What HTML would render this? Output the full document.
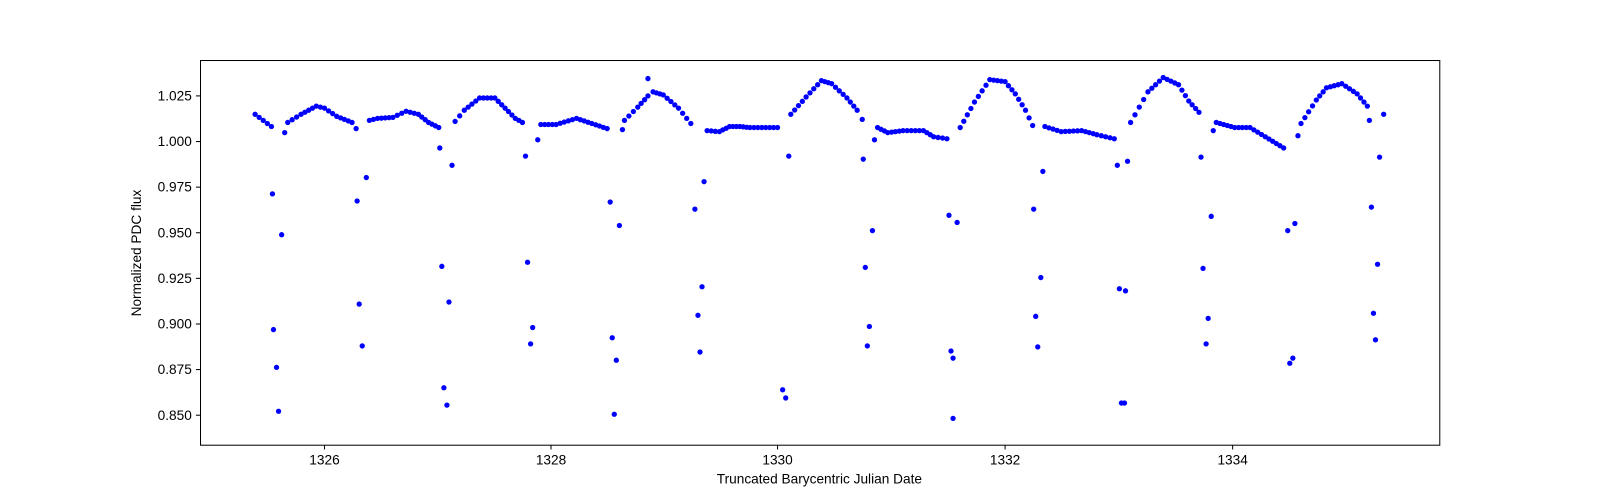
<!DOCTYPE html>
<html><head><meta charset="utf-8"><style>
html,body{margin:0;padding:0;background:#fff;overflow:hidden;width:1600px;height:500px;}
svg{display:block;}
svg text{font-family:"Liberation Sans","DejaVu Sans",sans-serif;font-size:13.4px;fill:#000;}
</style></head><body>
<svg id="s" width="1600" height="500" xmlns="http://www.w3.org/2000/svg">
<rect x="0" y="0" width="1600" height="500" fill="#fff"/>
<g transform="scale(1.0204)">
<g id="pts" fill="#0000ff"></g>
<rect x="196.5" y="59.3" width="1214.5" height="377" fill="none" stroke="#000" stroke-width="1"/>
<g stroke="#000">
<line x1="318" y1="436.5" x2="318" y2="440.5"/><line x1="540" y1="436.5" x2="540" y2="440.5"/>
<line x1="762" y1="436.5" x2="762" y2="440.5"/><line x1="985" y1="436.5" x2="985" y2="440.5"/>
<line x1="1208" y1="436.5" x2="1208" y2="440.5"/>
<line x1="192" y1="94" x2="196" y2="94"/><line x1="192" y1="138.7" x2="196" y2="138.7"/>
<line x1="192" y1="183.4" x2="196" y2="183.4"/><line x1="192" y1="228.1" x2="196" y2="228.1"/>
<line x1="192" y1="272.8" x2="196" y2="272.8"/><line x1="192" y1="317.5" x2="196" y2="317.5"/>
<line x1="192" y1="362.2" x2="196" y2="362.2"/><line x1="192" y1="406.9" x2="196" y2="406.9"/>
</g>
<g text-anchor="middle">
<text x="318" y="455">1326</text><text x="540" y="455">1328</text><text x="762" y="455">1330</text>
<text x="985" y="455">1332</text><text x="1208" y="455">1334</text>
<text x="803" y="474">Truncated Barycentric Julian Date</text>
<text transform="translate(138,248) rotate(-90)">Normalized PDC flux</text>
</g>
<g text-anchor="end">
<text x="188" y="98.5">1.025</text><text x="188" y="143.2">1.000</text><text x="188" y="187.9">0.975</text>
<text x="188" y="232.6">0.950</text><text x="188" y="277.3">0.925</text><text x="188" y="322">0.900</text>
<text x="188" y="366.7">0.875</text><text x="188" y="411.4">0.850</text>
</g>
</g>
</svg>
<script>
var segs=[
[[250,112],[258,118],[266,124]],
[[282,120],[295,112],[310,104],[318,106],[330,114],[345,120]],
[[362,118],[370,116],[385,115],[398,109],[410,112],[420,120],[430,125]],
[[446,119],[455,108],[470,96],[485,96],[495,106],[505,116],[512,120]],
[[530,122],[545,122],[565,116],[580,121],[595,126]],
[[612,118],[625,105],[635,94],[640,90],[650,93],[665,106],[677,121]],
[[693,128],[705,129],[715,124],[725,124],[735,125],[762,125]],
[[775,112],[790,95],[805,79],[815,82],[830,96],[840,108],[845,117]],
[[860,125],[870,130],[885,128],[905,128],[915,134],[928,136]],
[[941,125],[955,100],[970,78],[985,80],[995,92],[1005,108],[1012,123]],
[[1024,124],[1040,129],[1060,128],[1075,132],[1092,136]],
[[1108,120],[1125,90],[1140,76],[1155,83],[1165,99],[1175,110]],
[[1192,120],[1210,125],[1225,125],[1240,134],[1258,145]],
[[1275,121],[1290,98],[1300,86],[1315,82],[1330,92],[1340,104]]];
var singles=[[267,190],[268,323],[271,360],[273,403],[276,230],[279,130],[349,126],
[350,197],[352,298],[355,339],[359,174],[431,145],[433,261],[435,380],[438,397],[440,296],[443,162],
[515,153],[517,257],[520,337],[522,321],[527,137],[598,198],[600,331],[604,353],[602,406],[607,221],[610,127],
[635,77],[681,205],[684,309],[686,345],[688,281],[690,178],[767,382],[770,390],[773,153],
[846,156],[848,262],[850,339],[852,320],[855,226],[857,137],[930,211],[932,344],[934,351],[934,410],[938,218],
[1013,205],[1015,310],[1017,340],[1020,272],[1022,168],[1095,162],[1097,283],[1099,395],[1102,395],[1103,285],[1105,158],
[1177,154],[1179,263],[1182,337],[1184,312],[1187,212],[1189,128],
[1262,226],[1264,356],[1267,351],[1269,219],[1272,133],
[1342,118],[1344,203],[1346,307],[1348,333],[1350,259],[1352,154],[1356,112]];
var out="";
function dot(x,y){out+='<circle cx="'+x.toFixed(1)+'" cy="'+y.toFixed(1)+'" r="2.6"/>';}
segs.forEach(function(s){
 for(var i=0;i<s.length-1;i++){
  var a=s[i],b=s[i+1],n=Math.max(1,Math.round((b[0]-a[0])/4));
  for(var k=0;k<n;k++){var t=k/n;dot(a[0]+(b[0]-a[0])*t,a[1]+(b[1]-a[1])*t);}
 }
 var l=s[s.length-1];dot(l[0],l[1]);
});
singles.forEach(function(p){dot(p[0],p[1]);});
document.getElementById("pts").innerHTML=out;
</script>
</body></html>
